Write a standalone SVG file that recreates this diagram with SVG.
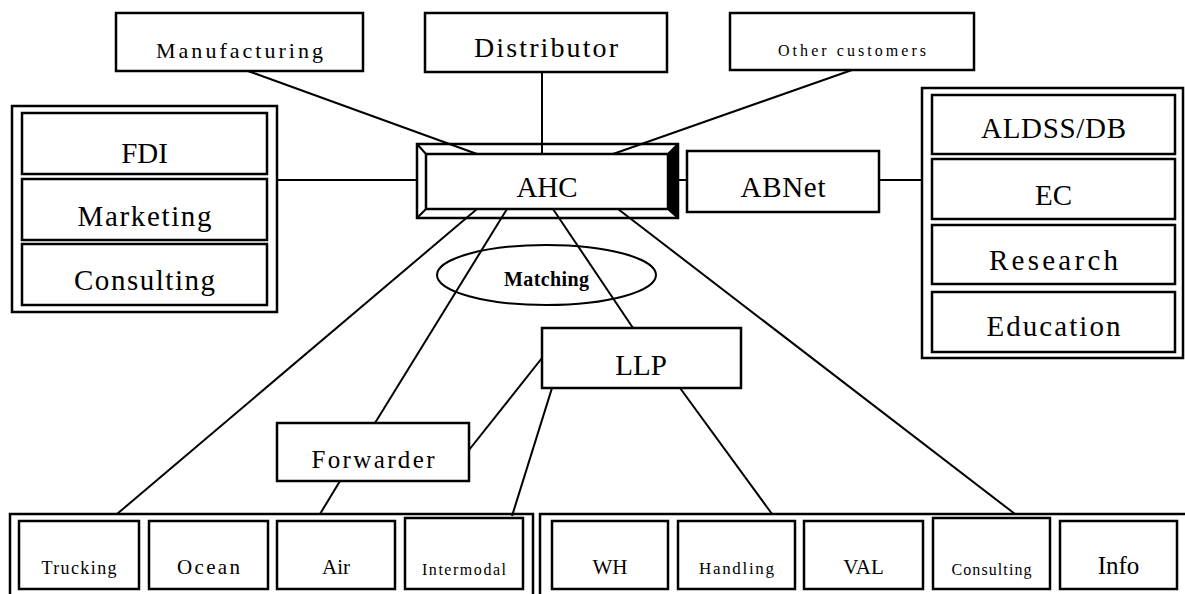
<svg xmlns="http://www.w3.org/2000/svg" width="1185" height="594" viewBox="0 0 1185 594">
<style>
.box{fill:#fff;stroke:#000;stroke-width:2.5}
.ln{stroke:#000;stroke-width:2;fill:none}
.t{font-family:"Liberation Serif","Times New Roman",serif;text-anchor:middle;fill:#000}
.L{font-size:29px}
.S{font-size:21px}
</style>
<rect width="1185" height="594" fill="#fff"/>
<g id="manufacturing"><rect class="box" x="116" y="13" width="247" height="58"/><text class="t" x="239.5" y="58" font-size="22" textLength="167" lengthAdjust="spacing">Manufacturing</text></g>
<g id="distributor"><rect class="box" x="425" y="13" width="242" height="59"/><text class="t" x="546" y="57" font-size="28" textLength="144" lengthAdjust="spacing">Distributor</text></g>
<g id="other-customers"><rect class="box" x="730" y="13" width="244" height="57"/><text class="t" x="852" y="56" font-size="16" textLength="148" lengthAdjust="spacing">Other customers</text></g>
<g id="ahc">
<rect x="417" y="144" width="261" height="74" fill="#fff" stroke="#000" stroke-width="2.5"/>
<polygon points="668,154 678,144 678,218 668,209" fill="#000"/>
<rect class="box" x="426" y="154" width="242" height="55"/>
<path class="ln" d="M417,144 L426,154 M417,218 L426,209 M678,144 L668,154 M678,218 L668,209"/>
<text class="t L" x="547" y="197">AHC</text></g>
<g id="abnet"><rect class="box" x="687" y="151" width="192" height="61"/><text class="t L" x="783" y="197" textLength="85" lengthAdjust="spacing">ABNet</text></g>
<g id="left-group">
<rect class="box" x="12" y="106" width="265" height="206"/>
<rect class="box" x="22" y="113" width="245" height="61"/><text class="t L" x="144.5" y="163">FDI</text>
<rect class="box" x="22" y="179" width="245" height="61"/><text class="t L" x="144.5" y="226" textLength="134" lengthAdjust="spacing">Marketing</text>
<rect class="box" x="22" y="244" width="245" height="61"/><text class="t L" x="144.5" y="290" textLength="141" lengthAdjust="spacing">Consulting</text>
</g>
<g id="right-group">
<rect class="box" x="922" y="88" width="261" height="270"/>
<rect class="box" x="932" y="95" width="243" height="59"/><text class="t L" x="1053.5" y="138" textLength="145" lengthAdjust="spacing">ALDSS/DB</text>
<rect class="box" x="932" y="159" width="243" height="60"/><text class="t L" x="1053.5" y="205">EC</text>
<rect class="box" x="932" y="225" width="243" height="59"/><text class="t L" x="1053.5" y="270" textLength="129" lengthAdjust="spacing">Research</text>
<rect class="box" x="932" y="292" width="243" height="60"/><text class="t L" x="1053.5" y="336" textLength="134" lengthAdjust="spacing">Education</text>
</g>
<g id="matching"><ellipse cx="546.5" cy="275" rx="109.5" ry="30" fill="none" stroke="#000" stroke-width="2"/><text class="t" x="546.5" y="286" font-size="20" font-weight="bold" textLength="85" lengthAdjust="spacing">Matching</text></g>
<g id="llp"><rect class="box" x="542" y="328" width="199" height="60"/><text class="t L" x="641" y="375">LLP</text></g>
<g id="forwarder"><rect class="box" x="277" y="423" width="192" height="58"/><text class="t" x="373" y="468" font-size="25" textLength="123" lengthAdjust="spacing">Forwarder</text></g>
<g id="transport-group">
<rect class="box" x="10" y="514" width="523" height="100"/>
<rect class="box" x="19" y="521" width="120" height="68"/><text class="t" x="79" y="574" font-size="18" textLength="75" lengthAdjust="spacing">Trucking</text>
<rect class="box" x="149" y="521" width="119" height="68"/><text class="t S" x="208.5" y="574" textLength="63" lengthAdjust="spacing">Ocean</text>
<rect class="box" x="277" y="521" width="118" height="68"/><text class="t S" x="336" y="574">Air</text>
<rect class="box" x="405" y="518" width="118" height="71"/><text class="t" x="464" y="575" font-size="16" textLength="84" lengthAdjust="spacing">Intermodal</text>
</g>
<g id="logistics-group">
<rect class="box" x="540" y="514" width="660" height="100"/>
<rect class="box" x="552" y="521" width="116" height="68"/><text class="t S" x="610" y="574">WH</text>
<rect class="box" x="678" y="521" width="117" height="68"/><text class="t" x="736.5" y="574" font-size="17" textLength="75" lengthAdjust="spacing">Handling</text>
<rect class="box" x="804" y="521" width="119" height="68"/><text class="t S" x="863.5" y="574">VAL</text>
<rect class="box" x="933" y="518" width="117" height="71"/><text class="t" x="991.5" y="575" font-size="16" textLength="80" lengthAdjust="spacing">Consulting</text>
<rect class="box" x="1060" y="521" width="117" height="68"/><text class="t" x="1118.5" y="574" font-size="25">Info</text>
</g>
<g id="connectors" class="ln">
<line x1="248" y1="71" x2="477" y2="154"/>
<line x1="542" y1="72" x2="542" y2="154"/>
<line x1="852" y1="70" x2="613" y2="154"/>
<line x1="277" y1="180" x2="417" y2="180"/>
<line x1="678" y1="180" x2="687" y2="180"/>
<line x1="879" y1="180" x2="922" y2="180"/>
<line x1="477" y1="209" x2="117" y2="514"/>
<line x1="507" y1="209" x2="375" y2="423"/>
<line x1="553" y1="209" x2="633" y2="328"/>
<line x1="618" y1="209" x2="1015" y2="514"/>
<line x1="542" y1="358" x2="469" y2="450"/>
<line x1="552" y1="388" x2="512" y2="516"/>
<line x1="680" y1="388" x2="772" y2="514"/>
<line x1="340" y1="481" x2="320" y2="514"/>
</g>
</svg>
